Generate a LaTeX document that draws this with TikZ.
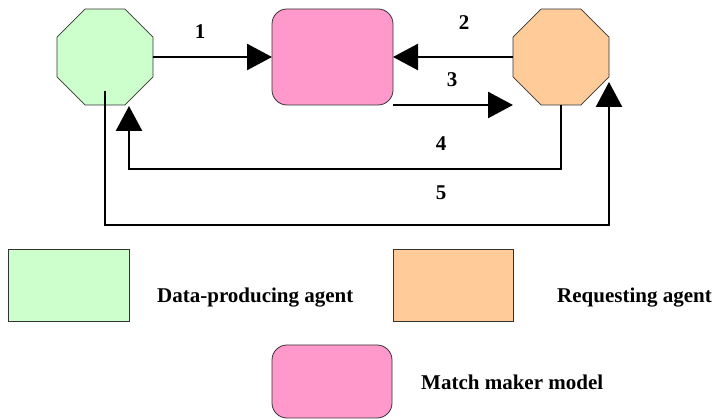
\documentclass[tikz,border=0pt]{standalone}
\usepackage{fontspec}
\setmainfont{Liberation Serif}
\usetikzlibrary{arrows.meta,shapes.geometric,calc}
\definecolor{agentgreen}{HTML}{CCFFCC}
\definecolor{matchpink}{HTML}{FF99CC}
\definecolor{reqorange}{HTML}{FFCC99}
\definecolor{edgegray}{HTML}{333333}
\begin{document}
\begin{tikzpicture}[x=1pt,y=-1pt,
  oct/.style={regular polygon, regular polygon sides=8, minimum size=103.9pt,
    inner sep=0pt, outer sep=0pt, draw=edgegray, line width=0.8pt},
  rbox/.style={rectangle, rounded corners=15pt, minimum width=121pt, minimum height=96pt,
    draw=edgegray, line width=0.8pt, inner sep=0pt, outer sep=0pt},
  lbox/.style={rectangle, minimum width=121pt, minimum height=72pt,
    draw=edgegray, line width=0.8pt, inner sep=0pt, outer sep=0pt},
  conn/.style={line width=2.6pt, -{Triangle[length=25pt,width=26pt]}},
  lbl/.style={font=\fontsize{21}{24}\selectfont\bfseries, inner sep=0pt},
]
\useasboundingbox (0,0) rectangle (715,419);
% main nodes
\node[oct, fill=agentgreen] (dp) at (105,57) {};
\node[rbox, fill=matchpink] (mm) at (332.5,57) {};
\node[oct, fill=reqorange] (ra) at (561,57) {};
% helper coordinates
\coordinate (c4) at (129,106);
\coordinate (s5) at (105,91);
\coordinate (e5) at (609,82);
% connectors
\draw[conn] (dp.east) -- (mm.west);
\draw[conn] (ra.west) -- (mm.east);
\draw[conn] (mm.south east) -- (mm.south east -| ra.west);
\draw[conn] (ra.south) -- ++(0,64) -| (c4);
\draw[conn] (s5) -- ++(0,134) -| (e5);
% number labels
\node[lbl] (n1) at (200,32) {1};
\node[lbl] (n2) at (464,23) {2};
\node[lbl] (n3) at (452,80) {3};
\node[lbl] (n4) at (441,144) {4};
\node[lbl] (n5) at (441,193) {5};
% legend
\node[lbox, fill=agentgreen] (lg) at (69,285) {};
\node[lbl, anchor=base west] (tg) at (157,303) {Data-producing agent};
\node[lbox, fill=reqorange, minimum width=120pt] (lo) at (453,285) {};
\node[lbl, anchor=base west] (to) at (557,303) {Requesting agent};
\node[rbox, fill=matchpink, minimum width=120pt, minimum height=73pt] (lp) at (332,381.5) {};
\node[lbl, anchor=base west] (tp) at (421,390) {Match maker model};
\end{tikzpicture}
\end{document}
